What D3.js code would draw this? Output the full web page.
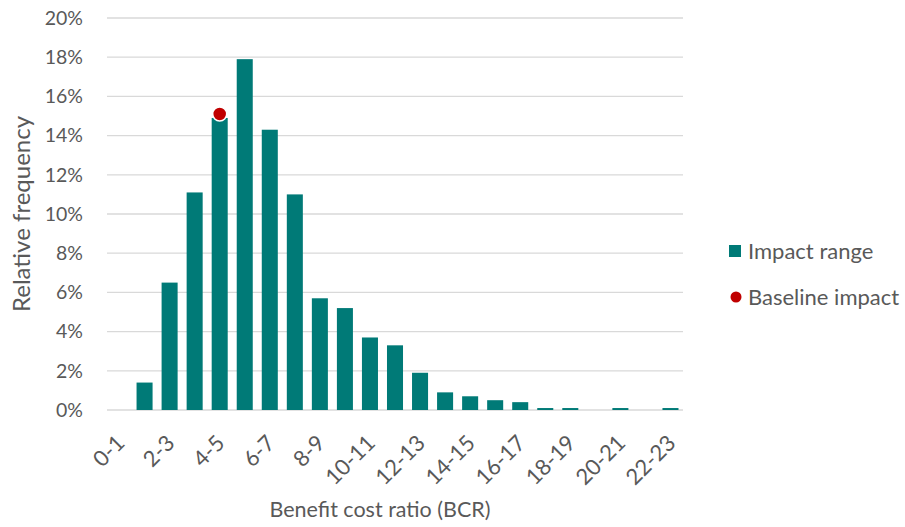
<!DOCTYPE html>
<html>
<head>
  <script src="https://d3js.org/d3.v7.min.js"></script>
  <style>
    body { margin: 0; background: #fff; }
    svg text { font-family: Lato, "Liberation Sans", sans-serif; fill: #595959; }
  </style>
</head>
<body>
  <svg id="chart" width="905" height="527"></svg>
  <script>
    var categories = ['0-1', '1-2', '2-3', '3-4', '4-5', '5-6', '6-7', '7-8', '8-9', '9-10',
      '10-11', '11-12', '12-13', '13-14', '14-15', '15-16', '16-17', '17-18', '18-19',
      '19-20', '20-21', '21-22', '22-23'];
    var impactRange = [0, 1.4, 6.5, 11.1, 14.9, 17.9, 14.3, 11.0, 5.7, 5.2, 3.7, 3.3, 1.9,
      0.9, 0.7, 0.5, 0.4, 0.1, 0.1, 0, 0.1, 0, 0.1];
    var baseline = { category: '4-5', value: 15.1 };
    var yTicks = [0, 2, 4, 6, 8, 10, 12, 14, 16, 18, 20];

    var plotLeft = 107, plotRight = 683, plotTop = 18, plotBottom = 410;
    var svg = d3.select('#chart');

    var x = d3.scaleBand().domain(categories).range([plotLeft, plotRight]).paddingInner(0.36).paddingOuter(0.18);
    var y = d3.scaleLinear().domain([0, 20]).range([plotBottom, plotTop]);

    // gridlines
    svg.append('g').selectAll('line')
      .data(yTicks)
      .enter().append('line')
      .attr('x1', plotLeft).attr('x2', plotRight)
      .attr('y1', function (d) { return y(d); })
      .attr('y2', function (d) { return y(d); })
      .attr('stroke', '#d9d9d9').attr('stroke-width', 1.3);

    svg.append('g').selectAll('text')
      .data(yTicks)
      .enter().append('text')
      .attr('x', 83).attr('y', function (d) { return y(d); })
      .attr('dy', '0.35em').attr('text-anchor', 'end')
      .style('font-size', '19.5px')
      .text(function (d) { return d + '%'; });

    svg.append('g').selectAll('rect')
      .data(impactRange)
      .enter().append('rect')
      .attr('x', function (d, i) { return x(categories[i]); })
      .attr('width', x.bandwidth())
      .attr('y', function (d) { return y(d); })
      .attr('height', function (d) { return plotBottom - y(d); })
      .attr('fill', '#007a77');

    svg.append('circle')
      .attr('cx', x(baseline.category) + x.bandwidth() / 2)
      .attr('cy', y(baseline.value))
      .attr('r', 7)
      .attr('fill', '#c00000')
      .attr('stroke', '#fff').attr('stroke-width', 1.5);

    // x tick labels, every other category
    svg.append('g').selectAll('text')
      .data(categories.filter(function (d, i) { return i % 2 === 0; }))
      .enter().append('text')
      .attr('transform', function (d) {
        return 'translate(' + (x(d) + x.bandwidth() / 2 + 1) + ',' + (plotBottom + 29) + ') rotate(-45)';
      })
      .attr('text-anchor', 'end').attr('dy', '0.35em')
      .style('font-size', '22px')
      .text(function (d) { return d; });

    svg.append('text')
      .attr('x', 380).attr('y', 517)
      .attr('text-anchor', 'middle')
      .style('font-size', '21.5px')
      .text('Benefit cost ratio (BCR)');

    svg.append('text')
      .attr('transform', 'translate(30,214) rotate(-90)')
      .attr('text-anchor', 'middle')
      .style('font-size', '24px')
      .text('Relative frequency');

    // legend
    var legend = svg.append('g');
    legend.append('rect').attr('x', 729).attr('y', 245).attr('width', 12).attr('height', 12).attr('fill', '#007a77');
    legend.append('text').attr('x', 748).attr('y', 251).attr('dy', '0.35em').style('font-size', '22px').text('Impact range');
    legend.append('circle').attr('cx', 736).attr('cy', 297).attr('r', 5.5).attr('fill', '#c00000');
    legend.append('text').attr('x', 748).attr('y', 297).attr('dy', '0.35em').style('font-size', '22px').text('Baseline impact');
  </script>
</body>
</html>
